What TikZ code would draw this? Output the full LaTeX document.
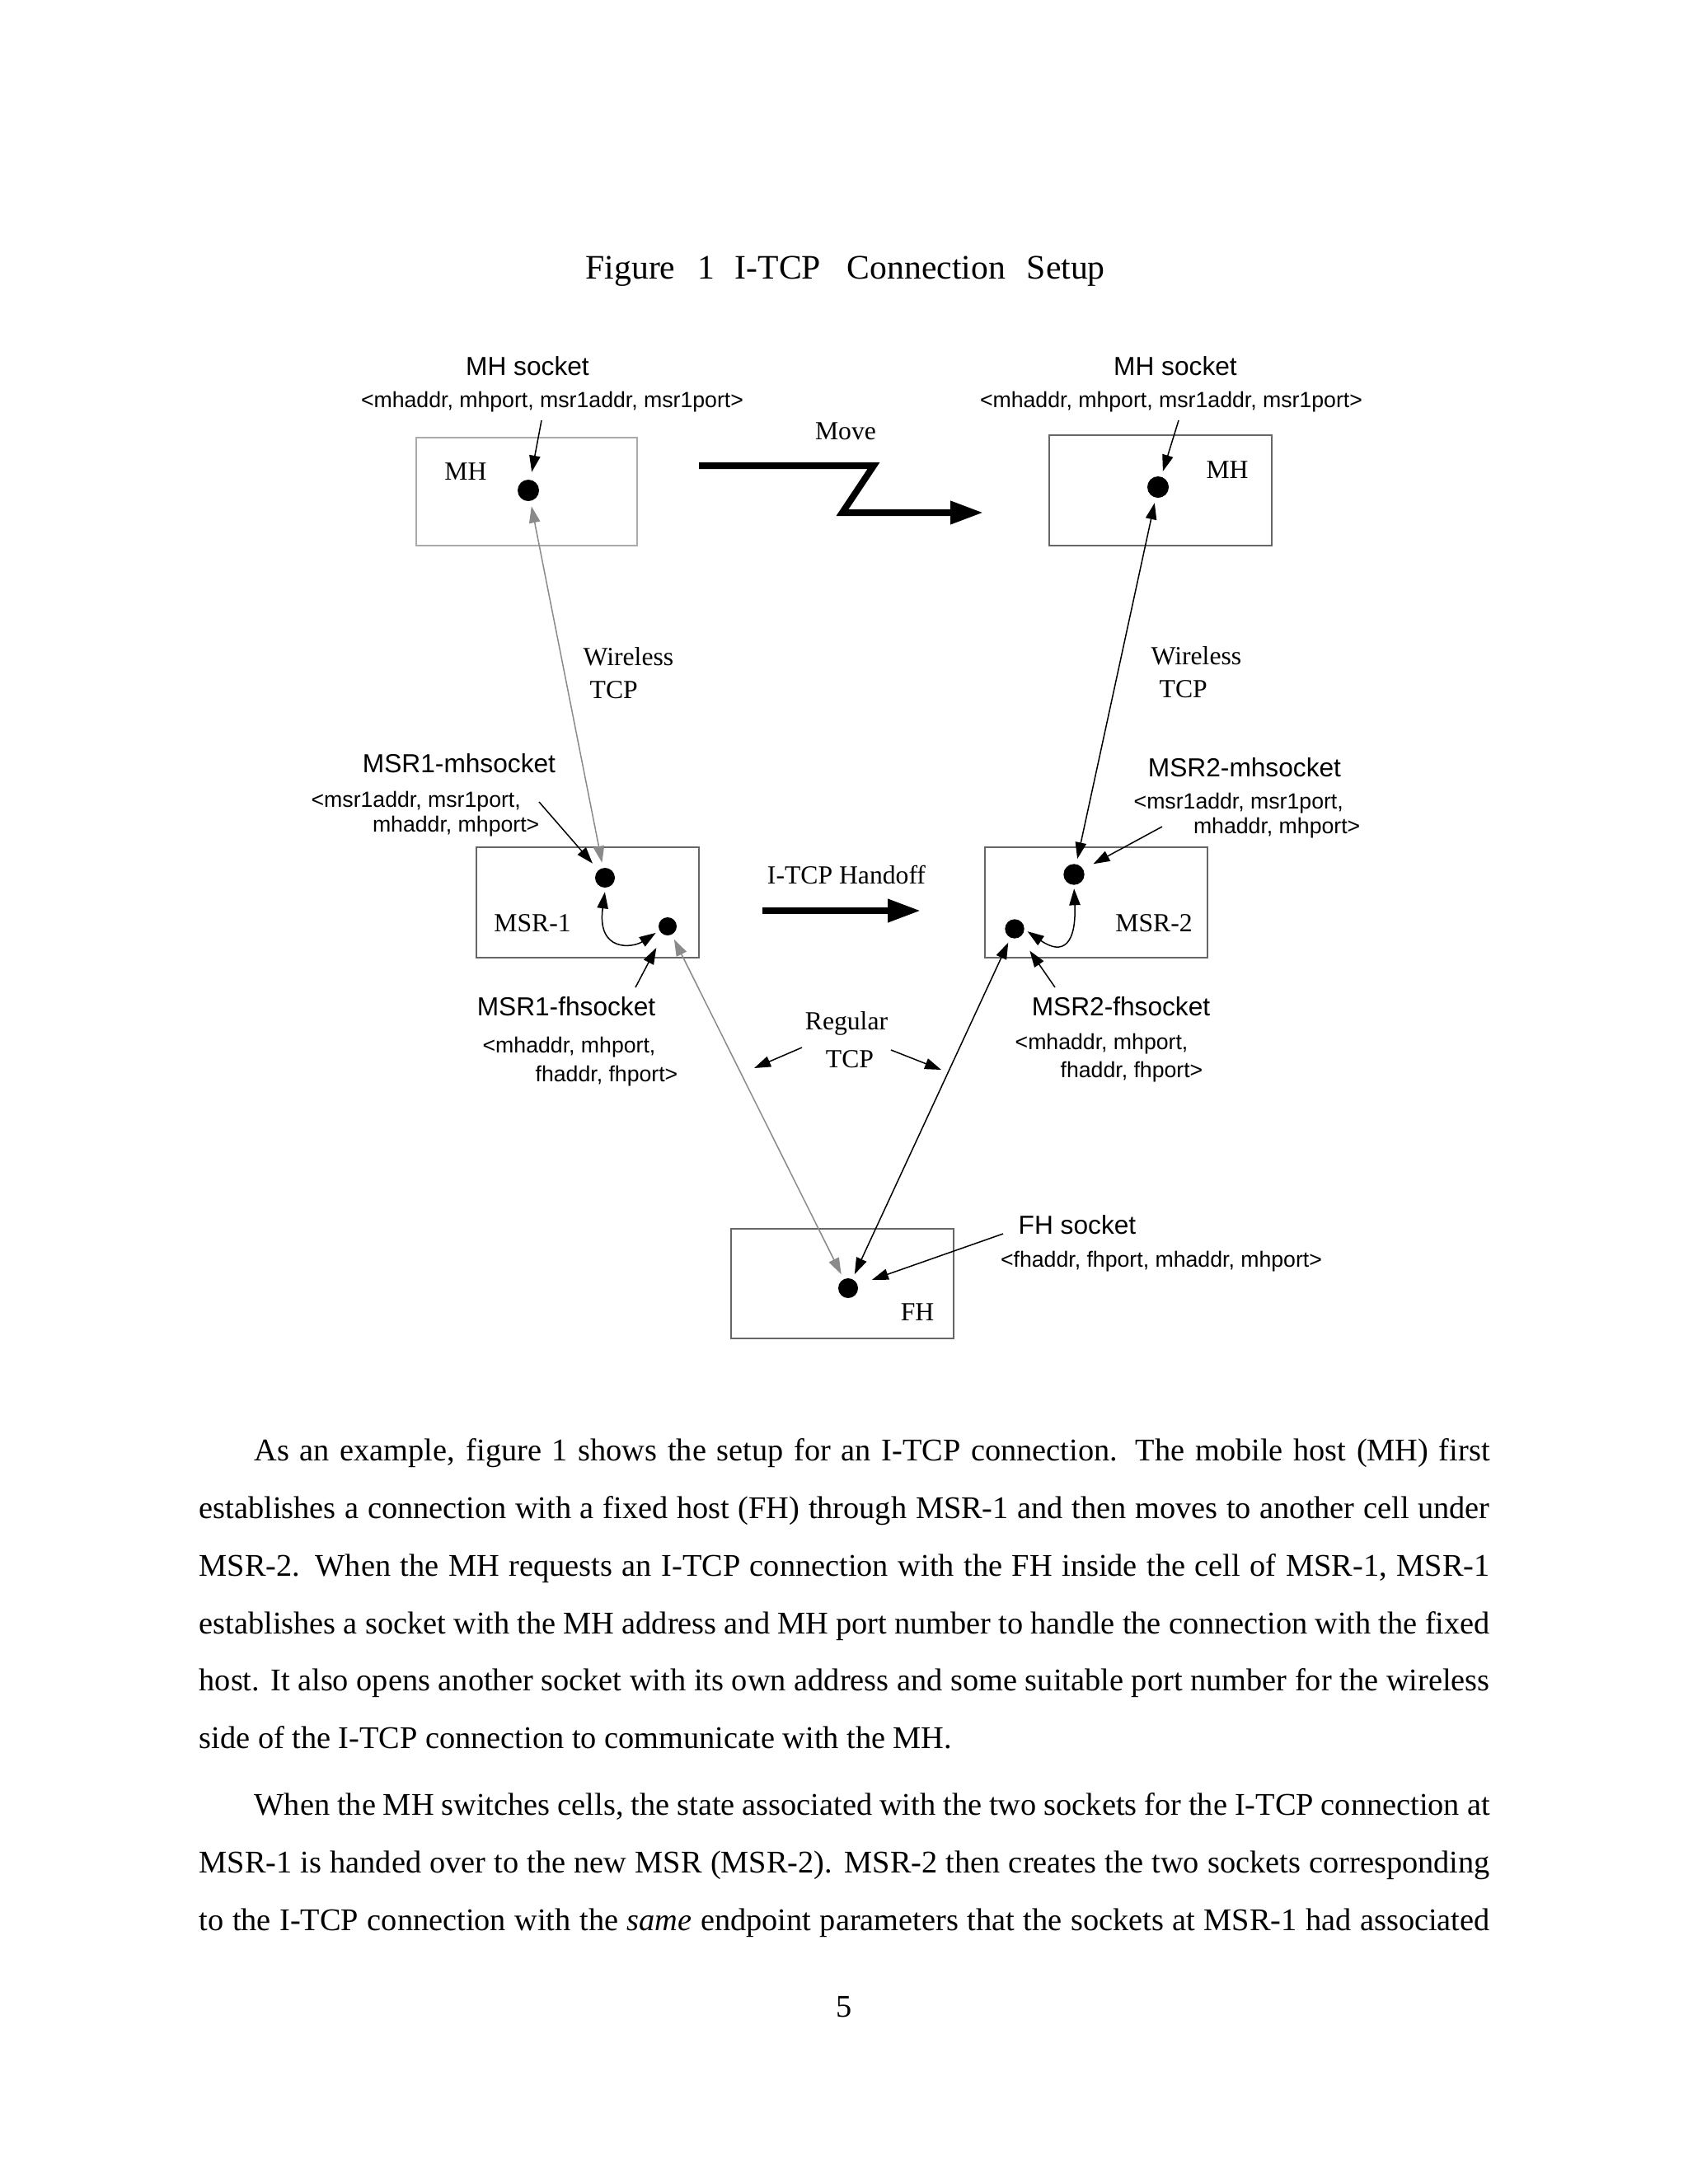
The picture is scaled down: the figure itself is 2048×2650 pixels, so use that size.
\documentclass[tikz,border=0pt]{standalone}
\usepackage{fontspec}
\setmainfont{Liberation Serif}
\newfontfamily\arialf{Liberation Sans}
\usetikzlibrary{arrows.meta}
\definecolor{lgray}{HTML}{8A8A8A}
\definecolor{boxgray}{HTML}{666666}
\definecolor{boxlight}{HTML}{AAAAAA}
\begin{document}
\begin{tikzpicture}[x=0.3pt,y=-0.3pt,
  hd/.style={font=\arialf\fontsize{9.5pt}{11pt}\selectfont, inner sep=0pt, anchor=base},
  tup/.style={font=\arialf\fontsize{8pt}{10pt}\selectfont, inner sep=0pt, anchor=base},
  lbl/.style={font=\fontsize{9.5pt}{11pt}\selectfont, inner sep=0pt, anchor=base},
  body/.style={font=\fontsize{11.5pt}{14pt}\selectfont, inner sep=0pt, anchor=base west},
  hostbox/.style={draw=boxgray, line width=0.6pt, inner sep=0pt, minimum width=81pt, minimum height=40pt},
  dot/.style={circle, fill=black, inner sep=0pt, minimum size=#1},
  tipA/.tip={Triangle[length=6pt,width=4pt]},
  tipB/.tip={Triangle[length=12pt,width=8pt]},
  ann/.style={line width=0.45pt, -tipA},
  bline/.style={line width=0.45pt, tipA-tipA, shorten <=1.8pt, shorten >=1.8pt},
  gline/.style={bline, draw=lgray, fill=lgray},
  thick/.style={line width=2.4pt, -tipB, miter limit=10},
  reg/.style={line width=0.45pt, -tipA}
]
\useasboundingbox (0,0) rectangle (2048,2650);

% title
\node[font=\fontsize{12.5pt}{15pt}\selectfont, inner sep=0pt, anchor=base west] (title) at (710,338)
  {Figure\hspace{8pt}1\hspace{7.5pt}I-TCP\hspace{9.5pt}Connection\hspace{7.8pt}Setup};

% boxes
\node[hostbox, draw=boxlight, minimum width=80.4pt, minimum height=39.3pt] (mh1box) at (639,596.5) {};
\node[hostbox] (mh2box) at (1408,595) {};
\node[hostbox] (msr1box) at (713,1095) {};
\node[hostbox] (msr2box) at (1330,1095) {};
\node[hostbox] (fhbox) at (1022,1557.5) {};

% box labels
\node[lbl] (mh1lbl) at (565,582) {MH};
\node[lbl] (mh2lbl) at (1489,580) {MH};
\node[lbl] (msr1lbl) at (646,1130) {MSR-1};
\node[lbl] (msr2lbl) at (1400,1130) {MSR-2};
\node[lbl] (fhlbl) at (1113,1602) {FH};

% sockets
\node[dot=7.8pt] (mh1dot) at (641,595) {};
\node[dot=7.8pt] (mh2dot) at (1405,591) {};
\node[dot=7.2pt] (msr1a) at (734,1065) {};
\node[dot=6.6pt] (msr1b) at (810,1124) {};
\node[dot=7.6pt] (msr2a) at (1303,1061) {};
\node[dot=7.0pt] (msr2b) at (1231,1127) {};
\node[dot=7.2pt] (fhdot) at (1029,1563) {};

% socket labels
\node[hd] (mh1hd) at (640,455) {MH socket};
\node[tup] (mh1tup) at (670,494) {<mhaddr, mhport, msr1addr, msr1port>};
\node[hd] (mh2hd) at (1426,455) {MH socket};
\node[tup] (mh2tup) at (1421,494) {<mhaddr, mhport, msr1addr, msr1port>};

\node[hd] (msr1mhd) at (557,937) {MSR1-mhsocket};
\node[tup, anchor=base west] (msr1mt1) at (377,979) {<msr1addr, msr1port,};
\node[tup, anchor=base east] (msr1mt2) at (655,1009) {mhaddr, mhport>};

\node[hd] (msr2mhd) at (1510,942) {MSR2-mhsocket};
\node[tup, anchor=base west] (msr2mt1) at (1375,981) {<msr1addr, msr1port,};
\node[tup, anchor=base east] (msr2mt2) at (1651,1011) {mhaddr, mhport>};

\node[hd] (msr1fhd) at (687,1232) {MSR1-fhsocket};
\node[tup, anchor=base west] (msr1ft1) at (585,1277) {<mhaddr, mhport,};
\node[tup, anchor=base east] (msr1ft2) at (823,1312) {fhaddr, fhport>};

\node[hd] (msr2fhd) at (1360,1232) {MSR2-fhsocket};
\node[tup, anchor=base west] (msr2ft1) at (1231,1273) {<mhaddr, mhport,};
\node[tup, anchor=base east] (msr2ft2) at (1460,1307) {fhaddr, fhport>};

\node[hd] (fhhd) at (1307,1497) {FH socket};
\node[tup] (fhtup) at (1409,1537) {<fhaddr, fhport, mhaddr, mhport>};

% link labels
\node[lbl] (move) at (1026,533) {Move};
\node[lbl, anchor=base west] (wl1) at (707,807) {Wireless};
\node[lbl, anchor=base west] (wt1) at (715,847) {TCP};
\node[lbl, anchor=base west] (wl2) at (1396,806) {Wireless};
\node[lbl, anchor=base west] (wt2) at (1406,846) {TCP};
\node[lbl] (handoff) at (1027,1072) {I-TCP Handoff};
\node[lbl] (regular) at (1027,1249) {Regular};
\node[lbl] (regtcp) at (1031,1295) {TCP};

% thick arrows
\coordinate (mvA) at (848,565);
\coordinate (mvB) at (1060,565);
\coordinate (mvC) at (1022,622);
\coordinate (mvD) at (1193,622);
\draw[thick] (mvA) -- (mvB) -- (mvC) -- (mvD);
\coordinate (hoA) at (925,1105);
\coordinate (hoB) at (1117,1105);
\draw[thick] (hoA) -- (hoB);

% connections
\draw[gline] (mh1dot) -- (msr1a);
\draw[gline] (msr1b) -- (fhdot);
\draw[bline] (mh2dot) -- (msr2a);
\draw[bline] (msr2b) -- (fhdot);
\draw[bline, shorten <=1.4pt, shorten >=1.4pt] (msr1b.207) .. controls (768,1150) and (724,1156) .. (msr1a.272);
\draw[bline, shorten <=1.2pt, shorten >=1.2pt] (msr2a.270) .. controls (1306,1145) and (1290,1160) .. (msr2b.356);

% annotation arrows
\coordinate (mhs1) at (657,510);
\coordinate (mhs2) at (1430,510);
\coordinate (msr1m) at (654,973);
\coordinate (msr2m) at (1410,1003);
\coordinate (msr1f) at (771,1198);
\coordinate (msr2f) at (1280,1198);
\coordinate (fhs) at (1217,1497);
\draw[ann, shorten >=2.7pt] (mhs1) -- (mh1dot);
\draw[ann, shorten >=1.9pt] (mhs2) -- (mh2dot);
\draw[ann, shorten >=3.1pt] (msr1m) -- (msr1a);
\draw[ann, shorten >=4pt] (msr2m) -- (msr2a);
\draw[ann, shorten >=5.3pt] (msr1f) -- (msr1b);
\draw[ann, shorten >=6pt] (msr2f) -- (msr2b);
\draw[ann, shorten >=5.4pt] (fhs) -- (fhdot);

% regular TCP pointers
\coordinate (rgA1) at (973,1271);
\coordinate (rgA2) at (915,1296);
\coordinate (rgB1) at (1081,1274);
\coordinate (rgB2) at (1142,1298);
\draw[reg] (rgA1) -- (rgA2);
\draw[reg] (rgB1) -- (rgB2);

% body text
\node[body] (p1l1) at (308,1772) {\makebox[449.7pt][s]{As an example, figure 1 shows the setup for an I-TCP connection. The mobile host (MH) first}};
\node[body] (p1l2) at (241,1842) {\makebox[469.8pt][s]{establishes a connection with a fixed host (FH) through MSR-1 and then moves to another cell under}};
\node[body] (p1l3) at (241,1912) {\makebox[469.8pt][s]{MSR-2. When the MH requests an I-TCP connection with the FH inside the cell of MSR-1, MSR-1}};
\node[body] (p1l4) at (241,1982) {\makebox[469.8pt][s]{establishes a socket with the MH address and MH port number to handle the connection with the fixed}};
\node[body] (p1l5) at (241,2051) {\makebox[469.8pt][s]{host. It also opens another socket with its own address and some suitable port number for the wireless}};
\node[body] (p1l6) at (241,2121) {side of the I-TCP connection to communicate with the MH.};
\node[body] (p2l1) at (308,2202) {\makebox[449.7pt][s]{When the MH switches cells, the state associated with the two sockets for the I-TCP connection at}};
\node[body] (p2l2) at (241,2272) {\makebox[469.8pt][s]{MSR-1 is handed over to the new MSR (MSR-2). MSR-2 then creates the two sockets corresponding}};
\node[body] (p2l3) at (241,2342) {\makebox[469.8pt][s]{to the I-TCP connection with the \textit{same} endpoint parameters that the sockets at MSR-1 had associated}};
\node[body, anchor=base] (pagenum) at (1024,2447) {5};
\end{tikzpicture}
\end{document}
